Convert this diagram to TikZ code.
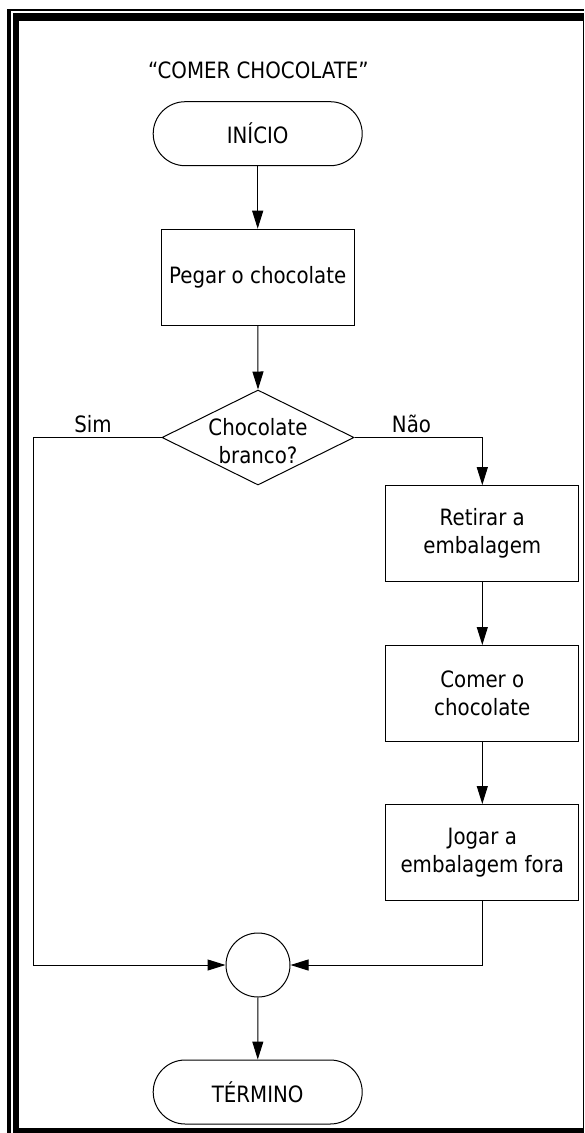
\documentclass[tikz,border=0pt]{standalone}
\usepackage{fontspec}
\setmainfont[FakeStretch=0.88]{DejaVu Sans}
\usetikzlibrary{shapes.geometric,arrows.meta}

\tikzset{
  every node/.style={font=\fontsize{22.5pt}{28pt}\selectfont},
  line/.style={draw=black, line width=1pt},
  flow/.style={line, -{Triangle[length=18pt,width=11pt]}},
  terminal/.style={draw, line width=1pt, rectangle, rounded corners=32pt,
    minimum width=209pt, minimum height=64pt, inner sep=0pt},
  process/.style={draw, line width=1pt, rectangle, align=center,
    minimum width=193pt, minimum height=96pt, inner sep=0pt},
  decision/.style={draw, line width=1pt, diamond, inner sep=0pt,
    minimum width=192pt, minimum height=95pt},
  connector/.style={draw, line width=1pt, circle, minimum size=64pt, inner sep=0pt},
  tag/.style={anchor=base, inner sep=0pt},
}

\begin{document}
\begin{tikzpicture}[x=1pt, y=-1pt]
  \useasboundingbox (0,0) rectangle (584,1133);
  \fill[white] (0,0) rectangle (584,1133);

  % double frame: thin outer line, heavy inner line
  \fill[black] (7,9) rectangle (584,11);
  \fill[black] (7,9) rectangle (11,1133);
  \fill[black] (13,13) rectangle (584,21);
  \fill[black] (13,13) rectangle (19,1133);
  \fill[black] (13,1128) rectangle (584,1133);
  \fill[black] (582.7,13) rectangle (584,1133);

  % title
  \node[tag] (title) at (258.4,78.3) {“COMER CHOCOLATE”};

  % flowchart nodes
  \node[terminal] (start) at (257.7,133.7) {INÍCIO};
  \node[process] (take) at (257.7,277.2) {Pegar o chocolate};
  \node[decision] (dec) at (258,437.5) {};
  \node[align=center, inner sep=0pt] (dectext) at (258,441) {Chocolate\\branco?};
  \node[process] (unwrap) at (482.3,533.7) {Retirar a\\embalagem};
  \node[process] (eat) at (482.3,693.5) {Comer o\\chocolate};
  \node[process] (toss) at (482.3,852.5) {Jogar a\\embalagem fora};
  \node[connector] (join) at (258,965) {};
  \node[terminal] (stop) at (257.7,1092) {TÉRMINO};

  % branch labels
  \node[tag] (yes) at (93,432.7) {Sim};
  \node[tag] (no) at (411.5,432.7) {Não};

  \coordinate (yesbend) at (33.5,437.5);

  % connectors
  \draw[flow] (start) -- (take);
  \draw[flow] (take) -- (dec.north);
  \draw[flow] (dec.east) -| (unwrap.north);
  \draw[flow] (unwrap) -- (eat);
  \draw[flow] (eat) -- (toss);
  \draw[flow] (toss.south) |- (join.east);
  \draw[flow] (dec.west) -- (yesbend) |- (join.west);
  \draw[flow] (join) -- (stop);
\end{tikzpicture}
\end{document}
